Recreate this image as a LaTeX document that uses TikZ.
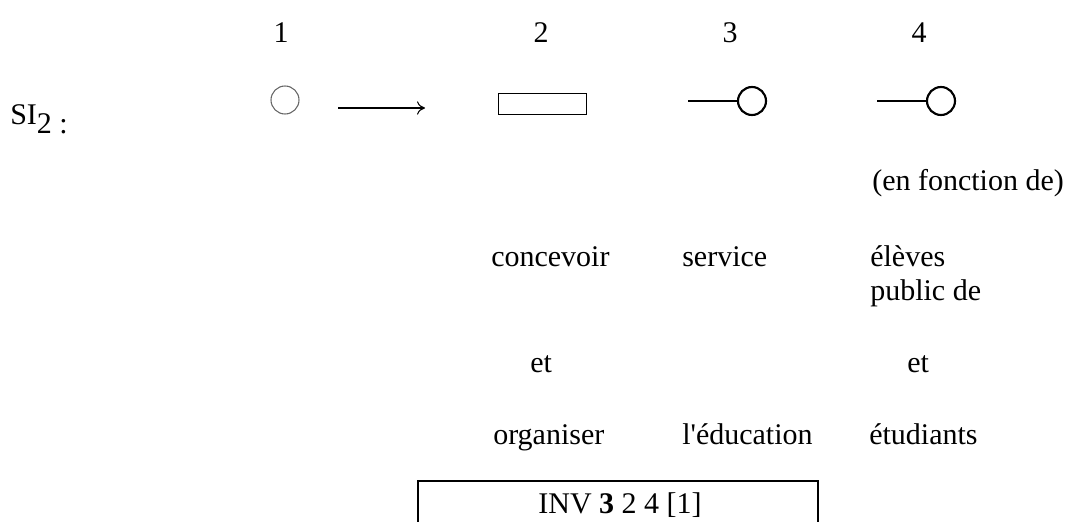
\documentclass[tikz,border=0pt]{standalone}
\usepackage{fontspec}
\setmainfont{Liberation Serif}
\usetikzlibrary{arrows.meta}

\begin{document}
\begin{tikzpicture}[x=0.75pt,y=-0.75pt,
    txt/.style={anchor=base west,inner sep=0pt,font=\fontsize{22.5}{26}\selectfont},
    num/.style={anchor=base,inner sep=0pt,font=\fontsize{22.5}{26}\selectfont},
    rond/.style={circle,draw,line width=1.6pt,minimum size=21pt,inner sep=0pt},
    tige/.style={line width=1.6pt}]
        \useasboundingbox (0,0) rectangle (1074,521);
        \clip (0,0) rectangle (1074,521);
        % Numeros
            \node[num] (n1) at (281,42) {1};
            \node[num] (n2) at (541,42) {2};
            \node[num] (n3) at (730,42) {3};
            \node[num] (n4) at (919,42) {4};
        % SI2
            \node[txt] (si) at (10,124) {SI\raisebox{-0.3em}{2 :}};
        % Symboles
            \node[circle,draw=black!60,line width=0.8pt,minimum size=21pt,inner sep=0pt] (c1) at (285,100) {};
            \coordinate (fa) at (338,108);
            \coordinate (fb) at (425,108);
            \draw[-{To[length=6pt,width=10pt]},line width=0.8pt] (fa) -- (fb); % fleche
            \node[draw,line width=1pt,minimum width=66pt,minimum height=16pt,inner sep=0pt] (r2) at (542.5,104) {};
            \node[rond] (c3) at (752,101) {};
            \coordinate (t3) at (688,101);
            \draw[tige] (t3) -- (c3.west);
            \node[rond] (c4) at (941,101) {};
            \coordinate (t4) at (877,101);
            \draw[tige] (t4) -- (c4.west);
        % Textes
            \node[txt] (fct) at (872,190) {(en fonction de)};
            \node[txt] (conc) at (491,266) {concevoir};
            \node[txt] (serv) at (682,266) {service};
            \node[txt] (elev) at (870,266) {élèves};
            \node[txt] (pub) at (870,300) {public de};
            \node[txt] (et2) at (530,372) {et};
            \node[txt] (et4) at (907,372) {et};
            \node[txt] (org) at (493,444) {organiser};
            \node[txt] (educ) at (682,444) {l\textquotesingle éducation};
            \node[txt] (etud) at (869,444) {étudiants};
        % Cadre INV
            \draw[line width=1.2pt] (418,560) -- (418,481) -- (818,481) -- (818,560);
            \node[num] (inv) at (620,513) {INV \textbf{3} 2 4 [1]};
\end{tikzpicture}
\end{document}
